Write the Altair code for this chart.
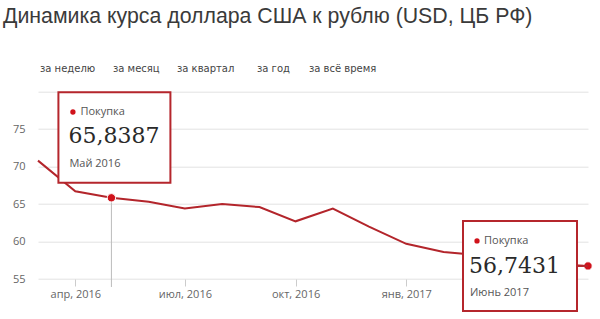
import altair as alt
import pandas as pd

# ---------------- data ----------------
months = ["2016-03-01", "2016-04-01", "2016-05-01", "2016-06-01", "2016-07-01",
          "2016-08-01", "2016-09-01", "2016-10-01", "2016-11-01", "2016-12-01",
          "2017-01-01", "2017-02-01", "2017-03-01", "2017-04-01", "2017-05-01",
          "2017-06-01"]
rates = [70.8, 66.7, 65.8387, 65.3, 64.4, 65.0, 64.6, 62.7, 64.4, 62.0,
         59.7, 58.6, 58.2, 56.5, 57.0, 56.7431]

highlight_months = ["2016-05-01", "2017-06-01"]
highlight_labels = ["Май 2016", "Июнь 2017"]
series_name = "Покупка"

title_text = "Динамика курса доллара США к рублю (USD, ЦБ РФ)"
buttons = ["за неделю", "за месяц", "за квартал", "за год", "за всё время"]

y_ticks = [55, 60, 65, 70, 75, 80]
x_ticks = [(2016, 4), (2016, 7), (2016, 10), (2017, 1)]
ru_months = ["янв", "фев", "мар", "апр", "май", "июн",
             "июл", "авг", "сен", "окт", "ноя", "дек"]

# ---------------- layout / style ----------------
W, H = 550, 187.3
button_x = [2, 75, 139, 219, 271]
RED = "#d0121b"
DARK = "#b3252b"
BORDER = "#b5262c"

df = pd.DataFrame({"date": months, "rate": rates})
hl = df[df["date"].isin(highlight_months)].copy()
hl["label"] = highlight_labels
hl["series"] = series_name
hl1 = hl.iloc[[0]]
hl2 = hl.iloc[[1]]

month_arr = "[" + ",".join("'" + m + "'" for m in ru_months) + "]"
x_label_expr = month_arr + "[utcmonth(datum.value)] + ', ' + utcyear(datum.value)"

x_scale = alt.Scale(type="utc", nice=False,
                    domain=[alt.DateTime(year=2016, month=3, date=1, utc=True),
                            alt.DateTime(year=2017, month=6, date=1, utc=True)])
y_scale = alt.Scale(domain=[55, 80], nice=False, zero=False)

x_axis = alt.Axis(values=[alt.DateTime(year=y, month=m, date=1, utc=True) for y, m in x_ticks],
                  labelExpr=x_label_expr, grid=False, domain=False,
                  tickSize=7, tickColor="#cccccc", labelPadding=2,
                  labelColor="#666666", labelFont="Open Sans", labelFontSize=11)
y_axis = alt.Axis(values=y_ticks, labelExpr="datum.value == 80 ? '' : datum.label",
                  grid=True, gridColor="#e3e3e3", domain=False, ticks=False,
                  labelOverlap=False, tickCount=len(y_ticks),
                  labelPadding=13, labelColor="#666666", labelFont="Open Sans",
                  labelFontSize=11)


def X():
    return alt.X("date:T", scale=x_scale, title=None, axis=x_axis)


def Y():
    return alt.Y("rate:Q", scale=y_scale, title=None, axis=y_axis)


base = alt.Chart(df)
line = base.mark_line(color=DARK, strokeWidth=2).encode(x=X(), y=Y())

fmt = "replace(format(datum.rate, '.4f'), '.', ',')"

# crosshair under first highlight
cross = alt.Chart(hl1).mark_rule(color="#bbbbbb", strokeWidth=1).encode(
    x=X(), y=Y(), y2=alt.value(H + 8))

points = alt.Chart(hl).mark_circle(size=70, color=RED, opacity=1,
                                   stroke="white", strokeWidth=1).encode(x=X(), y=Y())

# ---- box 1 (anchored horizontally to May 2016) ----
b1 = alt.Chart(hl1)
box1 = b1.mark_rect(fill="white", stroke=BORDER, strokeWidth=2,
                    xOffset=-53, x2Offset=59).encode(
    x=X(), x2="date", y=alt.value(0.5), y2=alt.value(91))
dot1 = b1.mark_circle(size=28, color=RED, opacity=1, xOffset=-38.5).encode(
    x=X(), y=alt.value(20.3))
ser1 = b1.mark_text(align="left", baseline="middle", dx=-31, fontSize=11,
                    font="Open Sans", color="#555555").encode(
    x=X(), y=alt.value(20.3), text="series:N")
num1 = b1.mark_text(align="left", baseline="middle", dx=-43, fontSize=22,
                    font="DejaVu Serif", color="#2a2a2a").transform_calculate(
    txt=fmt).encode(x=X(), y=alt.value(44.3), text="txt:N")
lab1 = b1.mark_text(align="left", baseline="middle", dx=-42, fontSize=11,
                    font="Open Sans", color="#555555").encode(
    x=X(), y=alt.value(72.3), text="label:N")

# ---- box 2 (anchored to Jun 2017) ----
b2 = alt.Chart(hl2)
conn2 = b2.mark_rule(color=BORDER, strokeWidth=2, xOffset=-11, x2Offset=0).encode(
    x=X(), x2="date", y=Y())
box2 = b2.mark_rect(fill="white", stroke=BORDER, strokeWidth=2,
                    xOffset=-125, x2Offset=-11, yOffset=-45, y2Offset=45).encode(
    x=X(), x2="date", y=Y(), y2="rate")
dot2 = b2.mark_circle(size=28, color=RED, opacity=1, xOffset=-111, yOffset=-25).encode(
    x=X(), y=Y())
ser2 = b2.mark_text(align="left", baseline="middle", dx=-104, dy=-25, fontSize=11,
                    font="Open Sans", color="#555555").encode(
    x=X(), y=Y(), text="series:N")
num2 = b2.mark_text(align="left", baseline="middle", dx=-119, dy=0, fontSize=22,
                    font="DejaVu Serif", color="#2a2a2a").transform_calculate(
    txt=fmt).encode(x=X(), y=Y(), text="txt:N")
lab2 = b2.mark_text(align="left", baseline="middle", dx=-118, dy=27, fontSize=11,
                    font="Open Sans", color="#555555").encode(
    x=X(), y=Y(), text="label:N")

# ---- title and period buttons ----
title = alt.Chart(pd.DataFrame({"t": [title_text]})).mark_text(
    align="left", baseline="middle", fontSize=21.3, font="Liberation Sans",
    color="#3a3a3a").encode(x=alt.value(-35), y=alt.value(-74.7), text="t:N")

btn_layers = []
for lbl, px in zip(buttons, button_x):
    btn_layers.append(
        alt.Chart(pd.DataFrame({"t": [lbl]})).mark_text(
            align="left", baseline="middle", fontSize=10, font="DejaVu Sans",
            color="#444444").encode(x=alt.value(px), y=alt.value(-22.4), text="t:N"))

chart = alt.layer(
    line, cross, points, box1, dot1, ser1, num1, lab1,
    conn2, box2, dot2, ser2, num2, lab2, title, *btn_layers
).properties(
    width=W, height=H, autosize="none",
    padding={"left": 38, "top": 91.7, "right": 12, "bottom": 40},
    background="white"
).configure_view(stroke=None)

chart.save("out.html", embed_options={"renderer": "svg", "actions": False})
